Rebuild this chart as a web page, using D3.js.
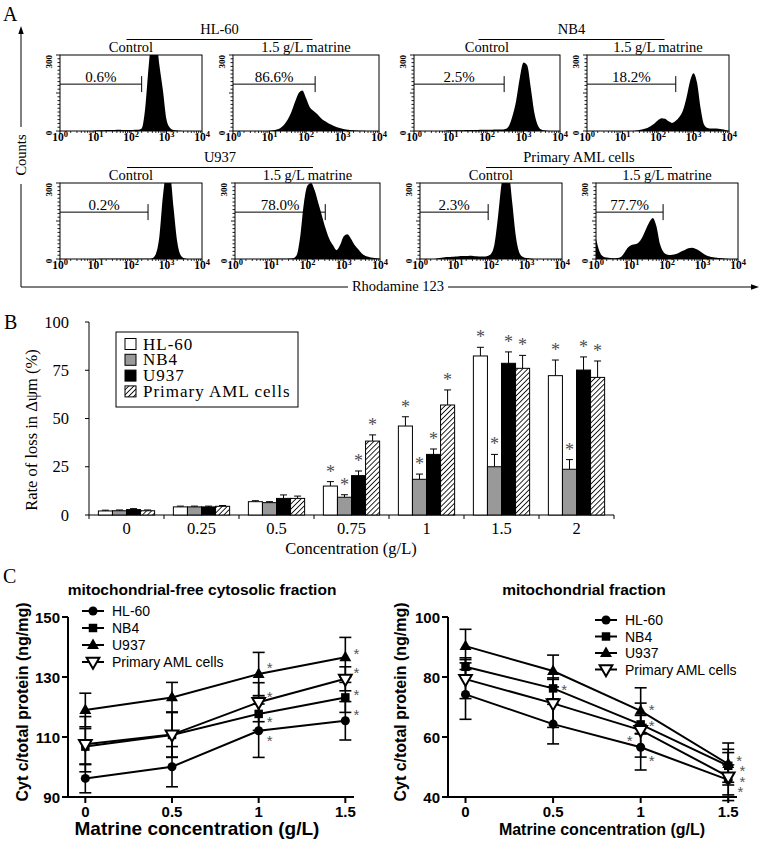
<!DOCTYPE html>
<html><head><meta charset="utf-8">
<script src="https://cdn.jsdelivr.net/npm/d3@7/dist/d3.min.js"></script>
<style>body{margin:0;background:#fff}svg{display:block}</style>
</head><body>
<svg id="fig" width="764" height="842"></svg>
<script>
// ================= DATA =================
// Panel A – flow cytometry (Rhodamine 123), counts per 0.1-decade bin, 10^0 .. 10^4
const flowCells = ["HL-60", "NB4", "U937", "Primary AML cells"];
const flowConditions = ["Control", "1.5 g/L matrine"];
const flowDecades = [0, 1, 2, 3, 4];
const flowCountLabels = [0, 300];
const hl60Control  = [0,0,0,0,0,0,0,0,0,0, 2,3,3,4,4,4,5,5,4,4, 4,5,5,10,90,260,380,370,260,160, 45,12,4,2,1,0,0,0,0,0,0];
const hl60Matrine  = [0,0,0,0,0,0,0,0,0,0, 1,3,6,12,25,45,75,115,150,160, 130,95,80,68,52,40,32,25,18,13, 9,6,4,3,2,1,1,0,0,0,0];
const nb4Control   = [0,0,0,0,0,0,0,0,0,2, 3,3,3,3,4,4,4,4,5,5, 5,5,6,6,6,8,20,60,120,210, 270,260,170,70,20,5,2,0,0,0,0];
const nb4Matrine   = [0,0,0,0,0,0,0,0,0,0, 0,0,0,0,2,5,8,12,20,30, 42,50,48,38,32,40,55,80,130,195, 228,190,90,25,12,10,10,9,7,4,1];
const u937Control  = [0,0,0,0,0,0,0,0,0,0, 0,1,1,1,1,1,1,1,1,1, 1,1,1,1,1,1,3,20,90,250, 340,330,200,70,15,3,0,0,0,0,0];
const u937Matrine  = [0,0,0,0,0,0,0,0,0,0, 1,1,1,1,1,2,3,15,90,220, 290,300,270,220,170,120,80,55,35,55, 90,98,80,55,38,22,12,8,5,3,1];
const primControl  = [0,0,0,0,0,3,5,7,8,9, 10,11,12,12,13,12,11,10,10,12, 20,60,170,300,360,340,220,90,25,8, 4,2,0,0,0,0,0,0,0,0,0];
const primMatrine  = [80,30,10,6,4,3,4,8,25,45, 55,58,65,85,115,145,162,130,60,28, 18,16,18,22,30,36,42,44,40,34, 24,15,10,7,5,4,2,1,0,0,0];
const flowHistograms = [[hl60Control, hl60Matrine],[nb4Control, nb4Matrine],[u937Control, u937Matrine],[primControl, primMatrine]];
const flowGateEnds   = [[2.3, 2.25],[2.47, 2.5],[2.48, 2.49],[1.92, 1.89]];
const flowGateLabels = [["0.6%","86.6%"],["2.5%","18.2%"],["0.2%","78.0%"],["2.3%","77.7%"]];
const flowGateCount = 185;

// Panel B – rate of loss in Δψm (%)
const concentrations = ["0","0.25","0.5","0.75","1","1.5","2"];
const bSeries = ["HL-60","NB4","U937","Primary AML cells"];
const hl60Loss    = [2.1, 4.2, 6.9, 15.0, 46.1, 82.4, 72.2];
const hl60LossErr = [0.4, 0.4, 0.5, 2.3, 4.8, 4.5, 8.1];
const nb4Loss     = [2.2, 4.2, 6.4, 9.2, 18.5, 25.0, 23.7];
const nb4LossErr  = [0.4, 0.4, 0.5, 1.3, 2.7, 6.4, 5.0];
const u937Loss    = [2.8, 4.2, 8.6, 20.4, 31.4, 78.6, 75.1];
const u937LossErr = [0.5, 0.4, 1.8, 2.4, 2.8, 5.9, 6.8];
const primLoss    = [2.2, 4.5, 8.6, 38.3, 57.0, 76.0, 71.3];
const primLossErr = [0.4, 0.4, 1.2, 3.2, 7.8, 6.7, 8.5];
const lossSignificant = [false, false, false, true, true, true, true];
const lossTicks = [0, 25, 50, 75, 100];

// Panel C – cytochrome c (ng/mg)
const cConc = [0, 0.5, 1, 1.5];
const cSeries = ["HL-60","NB4","U937","Primary AML cells"];
const cytoHL60 = [96.2, 100.1, 112.1, 115.4], cytoHL60Err = [4.8, 6.7, 8.9, 6.4];
const cytoNB4  = [106.8, 110.7, 117.7, 123.2], cytoNB4Err = [6.0, 7.5, 5.5, 5.0];
const cytoU937 = [119.0, 123.2, 131.0, 136.6], cytoU937Err = [5.6, 5.0, 7.2, 6.6];
const cytoPrim = [107.6, 110.8, 121.6, 129.4], cytoPrimErr = [9.2, 7.5, 6.5, 4.0];
const cytoTicks = [90, 110, 130, 150];
const cytoStars = [[1,134],[1,124.3],[1,116],[1,109.7],[1.5,138.7],[1.5,132.3],[1.5,125],[1.5,118.3]];
const mitoHL60 = [74.2, 64.3, 56.6, 45.7], mitoHL60Err = [8.3, 6.6, 7.6, 5.0];
const mitoNB4  = [83.4, 76.2, 64.2, 50.4], mitoNB4Err = [3.0, 3.5, 3.0, 5.5];
const mitoU937 = [90.3, 82.0, 68.7, 51.0], mitoU937Err = [5.6, 5.3, 7.7, 7.0];
const mitoPrim = [79.3, 71.2, 62.3, 46.8], mitoPrimErr = [6.5, 8.0, 9.0, 8.0];
const mitoTicks = [40, 60, 80, 100];
const mitoStars = [[0.5,76.7,1],[1,70,1],[1,64.7,1],[1,59.7,-1],[1,53,1],[1.5,53,1],[1.5,49.7,1.3],[1.5,46,1.3],[1.5,42.7,1.1]];

// ================= DRAWING =================
const SERIF = "'Liberation Serif','Times New Roman',Times,serif";
const SANS = "'Liberation Sans',Arial,Helvetica,sans-serif";
const svg = d3.select("#fig");
const defs = svg.append("defs");

function text(g, x, y, s, font, anchor) {
  return g.append("text").attr("x", x).attr("y", y).attr("text-anchor", anchor || "middle")
    .style("font", font).attr("fill", "#000").text(s);
}
function vtext(g, x, y, s, font, anchor) {
  return g.append("text").attr("transform", `translate(${x},${y}) rotate(-90)`)
    .attr("text-anchor", anchor || "middle").style("font", font).attr("fill", "#000").text(s);
}
function line(g, x1, y1, x2, y2, w, col) {
  return g.append("line").attr("x1", x1).attr("y1", y1).attr("x2", x2).attr("y2", y2)
    .attr("stroke", col || "#000").attr("stroke-width", w || 1);
}

// ---------- Panel A ----------
text(svg, 3, 21, "A", `20px ${SERIF}`, "start");
const gA = svg.append("g");
const rowY = [[55, 131], [183, 259]];
const flowLayout = [
  { row: 0, boxes: [[60, 202], [233, 379]] },
  { row: 0, boxes: [[414, 560], [587, 729]] },
  { row: 1, boxes: [[60, 202], [235, 380]] },
  { row: 1, boxes: [[420, 562], [596, 738]] }
];
let clipId = 0;
function flowBox(counts, gateEnd, gateLabel, cond, x0, x1, y0, y1) {
  const g = gA.append("g");
  const x = d3.scaleLinear().domain([0, 4]).range([x0, x1]);
  const y = d3.scaleLinear().domain([0, 300]).range([y1, y0]);
  const id = "clip" + (clipId++);
  defs.append("clipPath").attr("id", id).append("rect").attr("x", x0).attr("y", y0).attr("width", x1 - x0).attr("height", y1 - y0);
  const area = d3.area().x((d, i) => x(i * 0.1)).y0(y(0)).y1(d => y(d)).curve(d3.curveMonotoneX);
  g.append("path").datum(counts).attr("d", area).attr("fill", "#000").attr("clip-path", `url(#${id})`);
  g.append("rect").attr("x", x0).attr("y", y0).attr("width", x1 - x0).attr("height", y1 - y0)
    .attr("fill", "none").attr("stroke", "#000").attr("stroke-width", 1);
  // left ruler ticks
  d3.range(0, 301, 15).forEach(v => line(g, x0 - (v % 150 === 0 ? 4 : 2.5), y(v), x0, y(v), 0.9));
  flowCountLabels.forEach(v => {
    vtext(g, x0 - 8.5, v === 0 ? y(v) + 2 : y(v), String(v), `bold 9px ${SERIF}`, v === 0 ? "middle" : "end");
  });
  // bottom log ticks
  flowDecades.forEach(d => {
    line(g, x(d), y1, x(d), y1 + 3, 1);
    if (d < 4) for (let k = 2; k <= 9; k++) line(g, x(d + Math.log10(k)), y1, x(d + Math.log10(k)), y1 + 2, 0.8);
    const t = g.append("text").attr("x", x(d)).attr("y", y1 + 10).attr("text-anchor", "middle")
      .style("font", `bold 11.5px ${SERIF}`);
    t.append("tspan").text("10");
    t.append("tspan").attr("dy", -4.5).style("font-size", "8.5px").text(d);
  });
  // gate
  const gy = y(flowGateCount);
  line(g, x0, gy, x(gateEnd), gy, 1);
  line(g, x(gateEnd), gy - 8, x(gateEnd), gy + 8, 1);
  text(g, (x0 + x(gateEnd)) / 2, gy - 2.5, gateLabel, `15px ${SERIF}`);
  text(g, (x0 + x1) / 2, y0 - 3.5, cond, `14.5px ${SERIF}`);
}
flowLayout.forEach((L, ci) => {
  const [y0, y1] = rowY[L.row];
  const cx = (L.boxes[0][0] + L.boxes[1][1]) / 2;
  text(gA, cx, y0 - 21, flowCells[ci], `14.5px ${SERIF}`);
  line(gA, cx - 93, y0 - 15.5, cx + 93, y0 - 15.5, 1);
  L.boxes.forEach((b, k) => flowBox(flowHistograms[ci][k], flowGateEnds[ci][k], flowGateLabels[ci][k], flowConditions[k], b[0], b[1], y0, y1));
});
// Counts / Rhodamine 123 arrows
line(gA, 21, 127, 21, 31, 1);
gA.append("path").attr("d", "M21,26 L18.3,34 L23.7,34 Z").attr("fill", "#000");
vtext(gA, 26, 155, "Counts", `14.5px ${SERIF}`);
line(gA, 21, 184, 21, 287, 1);
line(gA, 21, 287, 348, 287, 1);
line(gA, 448, 287, 752, 287, 1);
gA.append("path").attr("d", "M759,287 L751,284.3 L751,289.7 Z").attr("fill", "#000");
text(gA, 398, 291, "Rhodamine 123", `14.5px ${SERIF}`);

// ---------- Panel B ----------
text(svg, 4, 329, "B", `20px ${SERIF}`, "start");
const gB = svg.append("g");
const pat = defs.append("pattern").attr("id", "hatch").attr("patternUnits", "userSpaceOnUse")
  .attr("width", 3.6).attr("height", 3.6).attr("patternTransform", "rotate(45)");
pat.append("rect").attr("width", 3.6).attr("height", 3.6).attr("fill", "#fff");
pat.append("line").attr("x1", 0).attr("y1", 0).attr("x2", 0).attr("y2", 3.6).attr("stroke", "#000").attr("stroke-width", 1.7);
const bFills = ["#fff", "#999", "#000", "url(#hatch)"];
const bVals = [hl60Loss, nb4Loss, u937Loss, primLoss];
const bErrs = [hl60LossErr, nb4LossErr, u937LossErr, primLossErr];
const bx = d3.scaleBand().domain(concentrations).range([89, 614]).paddingInner(0.25).paddingOuter(0.125);
const bs = d3.scaleBand().domain(bSeries).range([0, bx.bandwidth()]);
const by = d3.scaleLinear().domain([0, 100]).range([515, 322]);
// axes
line(gB, 89, by(100), 89, by(0), 1);
line(gB, 89, by(0), 614, by(0), 1);
lossTicks.forEach(v => {
  line(gB, 85, by(v), 89, by(v), 1);
  text(gB, 69, by(v) + 5.5, String(v), `16.5px ${SERIF}`, "end");
});
d3.range(concentrations.length + 1).forEach(k => {
  const px = bx.range()[0] + k * bx.step();
  line(gB, px, by(0), px, by(0) + 4, 1);
});
concentrations.forEach(c => text(gB, bx(c) + bx.bandwidth() / 2, 534, c, `16.5px ${SERIF}`));
text(gB, 351, 554, "Concentration (g/L)", `16.5px ${SERIF}`);
vtext(gB, 37, 430, "Rate of loss in Δψm (%)", `16.5px ${SERIF}`);
// bars
concentrations.forEach((c, i) => {
  bSeries.forEach((s, j) => {
    const v = bVals[j][i], e = bErrs[j][i];
    const x0 = bx(c) + bs(s), w = bs.bandwidth(), cx = x0 + w / 2;
    line(gB, cx, by(v), cx, by(v + e), 1);
    line(gB, cx - 3.5, by(v + e), cx + 3.5, by(v + e), 1);
    gB.append("rect").attr("x", x0).attr("y", by(v)).attr("width", w).attr("height", by(0) - by(v))
      .attr("fill", bFills[j]).attr("stroke", "#000").attr("stroke-width", 1);
    if (lossSignificant[i]) text(gB, cx, by(v + e) - 4, "*", `18px ${SERIF}`).attr("fill", "#4d4d55");
  });
});
// legend
gB.append("rect").attr("x", 116).attr("y", 332).attr("width", 182).attr("height", 75)
  .attr("fill", "#fff").attr("stroke", "#000").attr("stroke-width", 1);
bSeries.forEach((s, j) => {
  const yb = 349.5 + j * 15.8;
  gB.append("rect").attr("x", 125).attr("y", yb - 11).attr("width", 11).attr("height", 11)
    .attr("fill", bFills[j]).attr("stroke", "#000").attr("stroke-width", 1);
  text(gB, 143, yb, s, `17px ${SERIF}`, "start").style("letter-spacing", "1px");
});

// ---------- Panel C ----------
text(svg, 3, 583, "C", `20px ${SERIF}`, "start");
function symbolFor(j) {
  return [d3.symbolCircle, d3.symbolSquare, d3.symbolTriangle, d3.symbolTriangle][j];
}
function drawMarker(g, j, x, y) {
  const sizes = [64, 72, 62, 70];
  const p = g.append("path").attr("d", d3.symbol().type(symbolFor(j)).size(sizes[j])())
    .attr("transform", `translate(${x},${j === 3 ? y - 0.5 : y + (j === 2 ? 0.5 : 0)})${j === 3 ? " rotate(180)" : ""}`);
  if (j === 3) p.attr("fill", "#fff").attr("stroke", "#000").attr("stroke-width", 2);
  else p.attr("fill", "#000");
}
function linePanel(o) {
  const g = svg.append("g");
  const x = d3.scaleLinear().domain([-0.1, 1.55]).range([o.x0, o.x1]);
  const y = d3.scaleLinear().domain(o.domain).range([797, 617]);
  line(g, o.x0, y(o.domain[1]), o.x0, y(o.domain[0]), 2);
  line(g, o.x0, y(o.domain[0]), o.x1, y(o.domain[0]), 2);
  o.ticks.forEach(v => {
    line(g, o.x0 - 6, y(v), o.x0, y(v), 2);
    text(g, o.x0 - 8, y(v) + 5.5, String(v), `bold 15px ${SANS}`, "end");
  });
  cConc.forEach(c => {
    line(g, x(c), y(o.domain[0]), x(c), y(o.domain[0]) + 6, 2);
    text(g, x(c), 817, String(c), `bold 15px ${SANS}`);
  });
  text(g, o.titleX, 595, o.title, `bold 15.5px ${SANS}`);
  text(g, o.xTitleX, 835, "Matrine concentration (g/L)", `bold ${o.xTitleSize}px ${SANS}`);
  vtext(g, o.yLabelX, 702, "Cyt c/total protein (ng/mg)", `bold 16px ${SANS}`);
  const ln = d3.line().x((d, i) => x(cConc[i])).y(d => y(d));
  o.series.forEach(s => g.append("path").datum(s).attr("d", ln).attr("fill", "none").attr("stroke", "#000").attr("stroke-width", 2));
  o.series.forEach((s, j) => s.forEach((v, i) => {
    const e = o.errs[j][i], cx = x(cConc[i]);
    line(g, cx, y(v - e), cx, y(v + e), 1.6);
    line(g, cx - 6, y(v - e), cx + 6, y(v - e), 1.6);
    line(g, cx - 6, y(v + e), cx + 6, y(v + e), 1.6);
  }));
  o.series.forEach((s, j) => s.forEach((v, i) => drawMarker(g, j, x(cConc[i]), y(v))));
  o.stars.forEach(st => text(g, x(st[0]) + 11 * (st[2] || 1), y(st[1]) + 8, "*", `15px ${SANS}`).attr("fill", "#555"));
  cSeries.forEach((s, j) => {
    const ly = o.legY + j * o.legStep;
    line(g, o.legX - 11, ly, o.legX + 11, ly, 2);
    drawMarker(g, j, o.legX, ly);
    text(g, o.legX + 19, ly + 5, s, `14px ${SANS}`, "start");
  });
}
linePanel({
  x0: 68, x1: 354, domain: [90, 150], ticks: cytoTicks,
  series: [cytoHL60, cytoNB4, cytoU937, cytoPrim],
  errs: [cytoHL60Err, cytoNB4Err, cytoU937Err, cytoPrimErr],
  stars: cytoStars, title: "mitochondrial-free cytosolic fraction", titleX: 202,
  xTitleX: 197, xTitleSize: 19, yLabelX: 28, legX: 93, legY: 611, legStep: 17
});
linePanel({
  x0: 448, x1: 737, domain: [40, 100], ticks: mitoTicks,
  series: [mitoHL60, mitoNB4, mitoU937, mitoPrim],
  errs: [mitoHL60Err, mitoNB4Err, mitoU937Err, mitoPrimErr],
  stars: mitoStars, title: "mitochondrial fraction", titleX: 584,
  xTitleX: 602, xTitleSize: 16, yLabelX: 406, legX: 606, legY: 620, legStep: 16.5
});
</script>
</body></html>
